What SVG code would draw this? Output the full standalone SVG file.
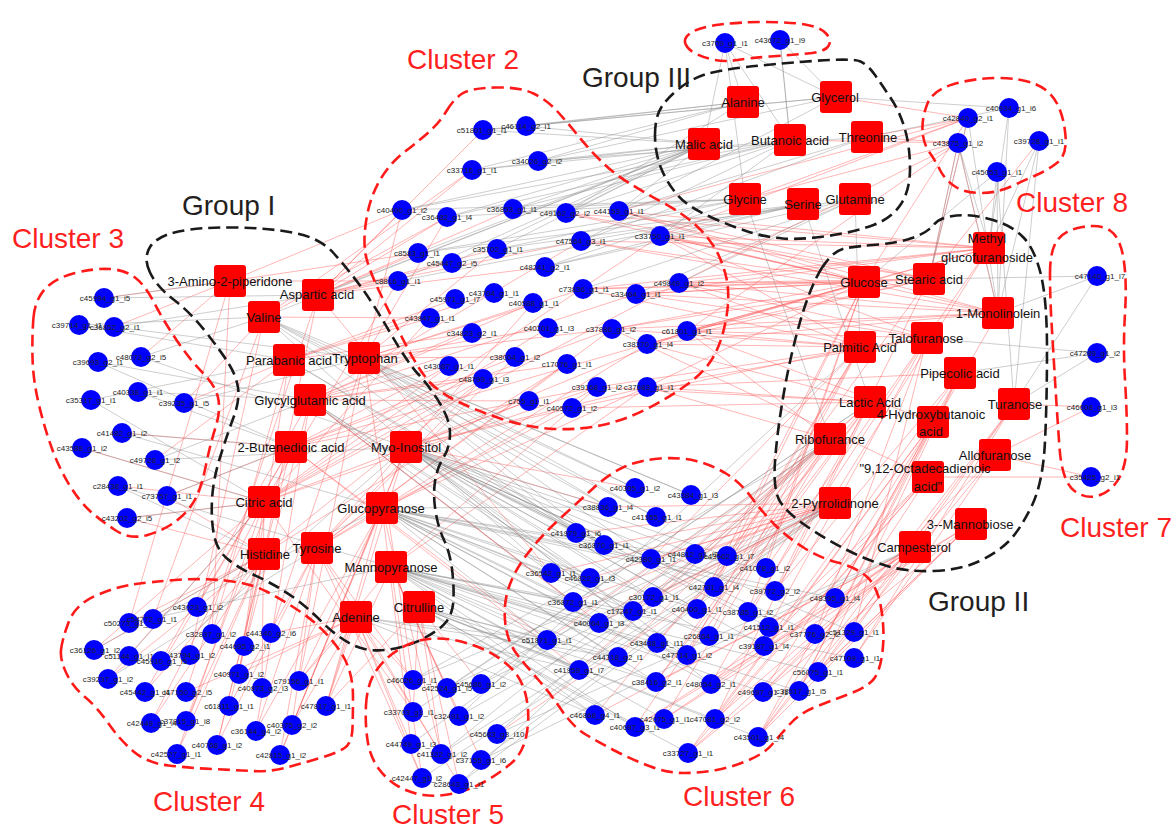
<svg xmlns="http://www.w3.org/2000/svg" width="1172" height="829" viewBox="0 0 1172 829">
<style>
.r{fill:none;stroke:#ff5050;stroke-width:.7;opacity:.6}
.g{fill:none;stroke:#8a8a8a;stroke-width:.7;opacity:.6}
.ro{fill:none;stroke:#ff1a1a;stroke-width:2.6;stroke-dasharray:12 6}
.bo{fill:none;stroke:#1a1a1a;stroke-width:2.6;stroke-dasharray:12 6}
.gn circle{fill:#0000ff}
.gn text{font-family:"Liberation Sans",Arial,sans-serif;font-size:8px;text-anchor:middle;fill:#222}
.mt rect{fill:#ff0000}
.mt text{font-family:"Liberation Sans",Arial,sans-serif;font-size:13px;text-anchor:middle;fill:#111}
.ttl{font-family:"Liberation Sans",Arial,sans-serif;font-size:28px}
.tr{fill:#ff1f1f}
.tb{fill:#231f20}
</style>
<rect width="1172" height="829" fill="#fff"/>
<g id="connectors">
<path class="r" d="M230 281L104 298M230 281L114 327M230 281L141 357M230 281L402 210M230 281L398 281M230 281L418 253M230 281L129 623M230 281L212 634"/>
<path class="r" d="M318 295L402 210M318 295L447 217M318 295L418 253M318 295L452 263M318 295L398 281M318 295L483 130M318 295L472 170M318 295L513 209M318 295L497 249M318 295L545 267M318 295L581 241M318 295L239 674M318 295L186 692M318 295L551 573"/>
<path class="r" d="M264 317L447 217M264 317L472 170M264 317L430 318M264 317L153 619M264 317L190 655M264 317L184 403"/>
<path class="r" d="M289 360L455 299M289 360L494 293M289 360L430 318M289 360L472 333M289 360L212 634M289 360L244 646M289 360L184 403M289 360L155 460"/>
<path class="r" d="M364 358L402 210M364 358L447 217M364 358L497 249M364 358L533 303M364 358L548 328M364 358L515 357M364 358L612 329M364 358L583 289M364 358L271 633M364 358L299 681M364 358L413 680"/>
<path class="r" d="M310 400L449 366M310 400L483 379M310 400L529 401M310 400L567 364M310 400L472 333M310 400L533 303M310 400L581 241M310 400L636 294M310 400L161 661M310 400L229 706M310 400L256 731M310 400L573 602M310 400L599 623"/>
<path class="r" d="M291 447L449 366M291 447L515 357M291 447L597 387M291 447L647 344M291 447L612 329M291 447L197 607M291 447L145 692M291 447L186 721M291 447L217 745M291 447L167 496M291 447L122 433M291 447L547 640M291 447L579 670"/>
<path class="r" d="M406 447L529 401M406 447L572 408M406 447L647 387M406 447L687 331M406 447L326 706M406 447L292 725M406 447L280 755M406 447L608 507M406 447L635 488"/>
<path class="r" d="M264 502L398 281M264 502L430 318M264 502L449 366M264 502L483 379M264 502L529 401M264 502L548 328M264 502L597 387M264 502L660 236M264 502L679 283M264 502L94 650M264 502L108 679M264 502L151 723M264 502L177 754M264 502L239 674M264 502L262 688M264 502L82 448M264 502L118 486M264 502L127 518M264 502L413 712"/>
<path class="r" d="M382 508L299 681M382 508L326 706M382 508L256 731M382 508L280 755M382 508L411 744M382 508L441 754M382 508L572 408M382 508L647 387"/>
<path class="r" d="M264 554L129 623M264 554L94 650M264 554L108 679M264 554L145 692M264 554L151 723M264 554L177 754M264 554L186 721M264 554L217 745M264 554L127 518M264 554L167 496M264 554L483 379M264 554L567 364"/>
<path class="r" d="M317 548L515 357M317 548L567 364M317 548L597 387M317 548L612 329M317 548L483 379M317 548L533 303M317 548L647 344M317 548L229 706M317 548L256 731M317 548L280 755M317 548L292 725M317 548L217 745M317 548L413 680M317 548L422 778M317 548L459 784"/>
<path class="r" d="M391 567L326 706M391 567L299 681M391 567L447 688M391 567L459 716M391 567L481 760M391 567L422 778M391 567L647 387M391 567L597 387"/>
<path class="r" d="M419 607L413 712M419 607L441 754M419 607L459 784M419 607L481 684M419 607L326 706"/>
<path class="r" d="M356 617L271 633M356 617L299 681M356 617L326 706M356 617L292 725M356 617L239 674M356 617L186 692M356 617L411 744M356 617L422 778M356 617L413 680M356 617L441 754"/>
<path class="r" d="M989 248L660 236M989 248L679 283M989 248L687 331M989 248L619 211M989 248L636 294M989 248L766 568M989 248L775 591M989 248L581 241M989 248L566 213M989 248L583 289M989 248L647 344"/>
<path class="r" d="M864 282L660 236M864 282L679 283M864 282L687 331M864 282L647 344M864 282L647 387M864 282L612 329M864 282L583 289M864 282L581 241M864 282L714 587M864 282L748 612M864 282L697 609M864 282L766 568M864 282L619 211M864 282L566 213M864 282L636 294"/>
<path class="r" d="M929 279L679 283M929 279L687 331M929 279L660 236M929 279L636 294M929 279L619 211M929 279L727 556M929 279L775 591M929 279L958 143M929 279L968 118M929 279L647 344M929 279L612 329M929 279L583 289M929 279L566 213"/>
<path class="r" d="M998 313L687 331M998 313L647 344M998 313L679 283M998 313L835 598M998 313L958 143M998 313L660 236M998 313L619 211M998 313L636 294M998 313L612 329M998 313L581 241"/>
<path class="r" d="M927 338L687 331M927 338L647 387M927 338L597 387M927 338L769 627M927 338L815 634M927 338L854 632M927 338L748 612M927 338L660 236M927 338L679 283M927 338L636 294"/>
<path class="r" d="M860 347L687 331M860 347L647 344M860 347L612 329M860 347L572 408M860 347L714 587M860 347L697 609M860 347L709 636M860 347L687 655M860 347L651 559M860 347L660 236M860 347L679 283M860 347L583 289"/>
<path class="r" d="M960 373L764 646M960 373L818 672M960 373L799 691M960 373L775 591M960 373L835 598M960 373L647 387"/>
<path class="r" d="M870 402L647 387M870 402L647 344M870 402L597 387M870 402L572 408M870 402L656 682M870 402L711 684M870 402L715 719M870 402L687 655M870 402L657 643M870 402L633 611M870 402L653 597"/>
<path class="r" d="M1014 404L854 658M1014 404L854 632M1014 404L818 672M1014 404L758 737M1014 404L1091 407"/>
<path class="r" d="M933 422L763 692M933 422L799 691M933 422L758 737M933 422L715 719M933 422L688 753M933 422L687 331"/>
<path class="r" d="M830 439L599 623M830 439L618 657M830 439L656 682M830 439L664 719M830 439L635 727M830 439L595 715M830 439L579 670M830 439L547 640M830 439L647 387M830 439L687 331"/>
<path class="r" d="M995 455L854 658M995 455L818 672M995 455L763 692M995 455L1091 477M995 455L1091 407"/>
<path class="r" d="M928 477L688 753M928 477L715 719M928 477L758 737M928 477L711 684M928 477L764 646M928 477L612 329M928 477L1091 477"/>
<path class="r" d="M835 503L573 602M835 503L551 573M835 503L590 578M835 503L604 545M835 503L576 533M835 503L608 507M835 503L651 559M835 503L695 554M835 503L653 597M835 503L633 611M835 503L599 623M835 503L497 734"/>
<path class="r" d="M971 524L799 691M971 524L818 672M971 524L758 737M971 524L688 753M971 524L664 719M971 524L635 727"/>
<path class="r" d="M915 547L595 715M915 547L635 727M915 547L664 719M915 547L688 753M915 547L715 719M915 547L758 737M915 547L763 692M915 547L711 684M915 547L656 682"/>
<path class="r" d="M968 118L867 137M968 118L836 97M968 118L660 236M968 118L619 211M968 118L864 282M968 118L745 199M958 143L867 137M958 143L790 140M958 143L745 199M958 143L679 283M958 143L687 331M1039 141L929 279"/>
<path class="g" d="M704 144L483 130M704 144L526 126M704 144L472 170M704 144L538 161M704 144L402 210M704 144L447 217M704 144L513 209M704 144L566 213M704 144L619 211M704 144L418 253M704 144L497 249M704 144L398 281M704 144L452 263M704 144L318 295M704 144L264 317"/>
<path class="g" d="M743 102L483 130M743 102L526 126M743 102L538 161M743 102L472 170M743 102L566 213M743 102L725 43"/>
<path class="g" d="M836 97L526 126M836 97L538 161M836 97L483 130M836 97L619 211M836 97L780 40M836 97L725 43M836 97L1009 108"/>
<path class="g" d="M790 140L472 170M790 140L513 209M790 140L447 217M790 140L566 213M790 140L402 210M790 140L660 236M790 140L581 241M790 140L780 40"/>
<path class="g" d="M867 137L538 161M867 137L619 211M867 137L581 241M867 137L1009 108"/>
<path class="g" d="M745 199L402 210M745 199L447 217M745 199L513 209M745 199L497 249M745 199L418 253M745 199L725 43M745 199L545 267M745 199L830 439"/>
<path class="g" d="M803 204L418 253M803 204L452 263M803 204L545 267M803 204L398 281M803 204L660 236M803 204L870 402"/>
<path class="g" d="M855 199L497 249M855 199L545 267M855 199L583 289M855 199L636 294M855 199L679 283M855 199L860 347"/>
<path class="g" d="M958 143L989 248M958 143L998 313M958 143L929 279M997 172L989 248M997 172L998 313M997 172L1014 404M997 172L864 282M1009 108L998 313M1009 108L989 248M1039 141L998 313M1039 141L1014 404M1039 141L989 248M968 118L929 279M968 118L998 313M725 43L704 144M725 43L790 140M780 40L790 140"/>
<path class="g" d="M1097 276L998 313M1097 276L1014 404M1097 276L929 279M1097 353L927 338M1097 353L960 373M1097 353L1014 404"/>
<path class="g" d="M406 447L608 507M406 447L604 545M406 447L651 559M406 447L695 554M406 447L727 556M406 447L714 587M406 447L653 597M406 447L697 609M406 447L748 612M406 447L769 627M406 447L709 636M406 447L657 643M406 447L764 646M406 447L815 634M406 447L854 632M406 447L576 533M406 447L590 578M406 447L687 655M406 447L711 684"/>
<path class="g" d="M382 508L551 573M382 508L590 578M382 508L573 602M382 508L633 611M382 508L599 623M382 508L547 640M382 508L618 657M382 508L687 655M382 508L711 684M382 508L656 682M382 508L766 568M382 508L775 591M382 508L835 598M382 508L604 545M382 508L608 507M382 508L651 559M382 508L709 636M382 508L697 609"/>
<path class="g" d="M391 567L547 640M391 567L579 670M391 567L618 657M391 567L595 715M391 567L635 727M391 567L664 719M391 567L656 682M391 567L763 692M391 567L799 691M391 567L818 672M391 567L854 658M391 567L573 602M391 567L599 623M391 567L633 611M391 567L657 643M391 567L687 655"/>
<path class="g" d="M419 607L579 670M419 607L595 715M419 607L635 727M419 607L688 753M419 607L715 719M419 607L758 737M419 607L547 640M419 607L618 657M419 607L656 682M356 617L547 640M356 617L579 670M356 617L595 715M356 617L618 657"/>
<path class="g" d="M364 358L576 533M364 358L604 545M364 358L608 507M364 358L656 517M364 358L691 495M364 358L635 488M364 358L651 559"/>
<path class="g" d="M264 317L576 533M264 317L551 573M264 317L608 507M264 317L635 488M264 317L691 495M264 317L656 517"/>
<path class="g" d="M310 400L551 573M310 400L590 578M310 400L573 602M310 400L633 611M289 360L604 545M289 360L576 533"/>
<path class="g" d="M104 298L230 281M104 298L318 295M79 325L264 317M79 325L289 360M114 327L364 358M114 327L318 295M98 362L310 400M98 362L291 447M141 357L264 317M141 357L406 447M138 392L291 447M138 392L310 400M91 400L264 502M91 400L289 360M184 403L364 358M122 433L291 447M122 433L382 508M82 448L264 502M155 460L310 400M155 460L406 447M118 486L264 554M118 486L391 567M167 496L291 447M127 518L264 502"/>
<path class="g" d="M94 650L264 554M108 679L317 548M129 656L264 502M161 661L406 447M153 619L382 508M129 623L391 567"/>
<path class="g" d="M413 680L835 503M413 680L830 439M447 688L835 503M447 688L870 402M481 684L830 439M481 684L835 503M459 716L835 503M459 716L860 347M497 734L830 439M497 734L915 547M441 754L835 503M441 754L830 439M481 760L835 503M481 760L915 547M459 784L830 439M459 784L835 503M422 778L835 503M411 744L830 439M413 712L870 402"/>
</g>
<g id="outlines">
<path id="outline-cluster3" class="ro" d="M33.5 317.5 Q35 300 45 289 Q55 278 75 273 Q95 268 110 269 Q125 270 135 277.5 Q145 285 154 302.5 Q163 320 176.5 340 Q190 360 202.5 372.5 Q215 385 218 397.5 Q221 410 215.5 427.5 Q210 445 206 465 Q202 485 196 497.5 Q190 510 177.5 520 Q165 530 147.5 535 Q130 540 115 530 Q100 520 90 511 Q80 502 70 486 Q60 470 52.5 450 Q45 430 39 405 Q33 380 32.5 357.5 Q32 335 33.5 317.5Z"/>
<path id="outline-group1" class="bo" d="M150 272.5 Q143 258 150 247 Q157 236 178.5 231.5 Q200 227 235 227.5 Q270 228 295 233 Q320 238 333.5 253 Q347 268 360 285.5 Q373 303 390 332.5 Q407 362 418.5 374.5 Q430 387 440 403.5 Q450 420 450 433.5 Q450 447 443.5 457.5 Q437 468 435 481.5 Q433 495 435.5 511 Q438 527 444 540 Q450 553 452 569 Q454 585 453.5 599 Q453 613 446.5 621.5 Q440 630 422.5 639 Q405 648 385 650 Q365 652 350 643.5 Q335 635 322.5 622.5 Q310 610 299 601.5 Q288 593 276.5 586.5 Q265 580 251 573.5 Q237 567 227 558.5 Q217 550 214 535 Q211 520 212 500 Q213 480 220 457.5 Q227 435 233.5 417.5 Q240 400 238 387.5 Q236 375 228 362.5 Q220 350 205 331 Q190 312 173.5 299.5 Q157 287 150 272.5Z"/>
<path id="outline-cluster2" class="ro" d="M446.5 111 Q453 100 461.5 94 Q470 88 495 87.5 Q520 87 533.5 93.5 Q547 100 557 111 Q567 122 577.5 135 Q588 148 600.5 160.5 Q613 173 629 183 Q645 193 663.5 203 Q682 213 694.5 224 Q707 235 715 248.5 Q723 262 726.5 278.5 Q730 295 726.5 316.5 Q723 338 715 354 Q707 370 688.5 383.5 Q670 397 647.5 408.5 Q625 420 602.5 425 Q580 430 555 429 Q530 428 505 420 Q480 412 460 402.5 Q440 393 430 382.5 Q420 372 406.5 346 Q393 320 380.5 294 Q368 268 365.5 254 Q363 240 366.5 218.5 Q370 197 380 180 Q390 163 405 151.5 Q420 140 430 131 Q440 122 446.5 111Z"/>
<path id="outline-top" class="ro" d="M685.5 44 Q683 38 691.5 32.5 Q700 27 720 24.5 Q740 22 765 22 Q790 22 805 24.5 Q820 27 826 33.5 Q832 40 828.5 46 Q825 52 807.5 53.5 Q790 55 770 56.5 Q750 58 737.5 60 Q725 62 715 60 Q705 58 696.5 54 Q688 50 685.5 44Z"/>
<path id="outline-group3" class="bo" d="M655 135 Q655 117 661.5 107 Q668 97 680.5 87.5 Q693 78 706.5 74 Q720 70 746.5 67 Q773 64 813 61 Q853 58 860.5 61.5 Q868 65 875 75 Q882 85 891 98.5 Q900 112 905 129.5 Q910 147 910 168.5 Q910 190 901 204 Q892 218 873.5 225 Q855 232 827.5 236 Q800 240 782.5 238.5 Q765 237 749 232 Q733 227 710.5 217 Q688 207 677.5 195 Q667 183 661 168 Q655 153 655 135Z"/>
<path id="outline-cluster8" class="ro" d="M922.5 130 Q922 117 927.5 103.5 Q933 90 954 84 Q975 78 997.5 78 Q1020 78 1035 84 Q1050 90 1057 103.5 Q1064 117 1065.5 136 Q1067 155 1057.5 162.5 Q1048 170 1036.5 175 Q1025 180 1011 186.5 Q997 193 981 193 Q965 193 955 186.5 Q945 180 940 170 Q935 160 929 151.5 Q923 143 922.5 130Z"/>
<path id="outline-cluster7" class="ro" d="M1050 273.5 Q1050 250 1057.5 240 Q1065 230 1082.5 227 Q1100 224 1110 230.5 Q1120 237 1123.5 258.5 Q1127 280 1125 313.5 Q1123 347 1125 380 Q1127 413 1127 438 Q1127 463 1120 476.5 Q1113 490 1100 495 Q1087 500 1074.5 491 Q1062 482 1059.5 447.5 Q1057 413 1055 380 Q1053 347 1051.5 322 Q1050 297 1050 273.5Z"/>
<path id="outline-group2" class="bo" d="M821.5 268.5 Q833 250 846.5 248 Q860 246 878.5 244.5 Q897 243 912 238 Q927 233 933.5 225 Q940 217 956.5 215.5 Q973 214 993 220 Q1013 226 1024 238 Q1035 250 1041 275 Q1047 300 1047 350 Q1047 400 1045 441.5 Q1043 483 1031.5 506.5 Q1020 530 1008.5 541.5 Q997 553 978.5 561.5 Q960 570 933.5 571 Q907 572 887 566 Q867 560 847 550 Q827 540 807 526.5 Q787 513 780 501.5 Q773 490 775 461.5 Q777 433 783.5 395 Q790 357 800 322 Q810 287 821.5 268.5Z"/>
<path id="outline-cluster4" class="ro" d="M61 650 Q62 640 68.5 622.5 Q75 605 95 596 Q115 587 132.5 584.5 Q150 582 175 580 Q200 578 225 580.5 Q250 583 266.5 591.5 Q283 600 300 611.5 Q317 623 330 638 Q343 653 348 666.5 Q353 680 353 696.5 Q353 713 352.5 728 Q352 743 344.5 748 Q337 753 320 758 Q303 763 286.5 767.5 Q270 772 251.5 771 Q233 770 211.5 769 Q190 768 168.5 765.5 Q147 763 133.5 751.5 Q120 740 108.5 723.5 Q97 707 85 697 Q73 687 66.5 673.5 Q60 660 61 650Z"/>
<path id="outline-cluster5" class="ro" d="M366 705 Q367 687 373.5 675 Q380 663 393.5 653 Q407 643 422 640 Q437 637 453.5 640 Q470 643 485 650 Q500 657 511.5 668.5 Q523 680 526.5 698.5 Q530 717 526.5 735 Q523 753 511.5 763 Q500 773 485 781.5 Q470 790 453.5 793.5 Q437 797 423.5 795 Q410 793 398.5 786.5 Q387 780 378.5 768.5 Q370 757 367.5 740 Q365 723 366 705Z"/>
<path id="outline-cluster6" class="ro" d="M505.5 625 Q503 607 508 590 Q513 573 526.5 555 Q540 537 558.5 520 Q577 503 593.5 488 Q610 473 625 466.5 Q640 460 660 458.5 Q680 457 696 461 Q712 465 726 473.5 Q740 482 751.5 497.5 Q763 513 775 525 Q787 537 803.5 547.5 Q820 558 837.5 562.5 Q855 567 866 576 Q877 585 881 607.5 Q885 630 882.5 651.5 Q880 673 872.5 680.5 Q865 688 849 694 Q833 700 816.5 706.5 Q800 713 790 724 Q780 735 772.5 744 Q765 753 749 760 Q733 767 716.5 770 Q700 773 684 773 Q668 773 650.5 766.5 Q633 760 616.5 751.5 Q600 743 586.5 735 Q573 727 561.5 710 Q550 693 538.5 680 Q527 667 517.5 655 Q508 643 505.5 625Z"/>
</g>
<g id="metabolites">
<g id="m-3-amino-2-piperidone" class="mt"><rect x="214" y="265" width="32" height="32" rx="3"/><text x="230" y="286">3-Amino-2-piperidone</text></g>
<g id="m-aspartic-acid" class="mt"><rect x="302" y="279" width="32" height="32" rx="3"/><text x="317" y="299">Aspartic acid</text></g>
<g id="m-valine" class="mt"><rect x="248" y="301" width="32" height="32" rx="3"/><text x="264" y="322">Valine</text></g>
<g id="m-parabanic-acid" class="mt"><rect x="273" y="344" width="32" height="32" rx="3"/><text x="289" y="365">Parabanic acid</text></g>
<g id="m-tryptophan" class="mt"><rect x="348" y="342" width="32" height="32" rx="3"/><text x="365" y="363">Tryptophan</text></g>
<g id="m-glycylglutamic-acid" class="mt"><rect x="294" y="384" width="32" height="32" rx="3"/><text x="310" y="405">Glycylglutamic acid</text></g>
<g id="m-2-butenedioic-acid" class="mt"><rect x="275" y="431" width="32" height="32" rx="3"/><text x="291" y="452">2-Butenedioic acid</text></g>
<g id="m-myo-inositol" class="mt"><rect x="390" y="431" width="32" height="32" rx="3"/><text x="406" y="452">Myo-Inositol</text></g>
<g id="m-citric-acid" class="mt"><rect x="248" y="486" width="32" height="32" rx="3"/><text x="264" y="507">Citric acid</text></g>
<g id="m-glucopyranose" class="mt"><rect x="366" y="492" width="32" height="32" rx="3"/><text x="381" y="513">Glucopyranose</text></g>
<g id="m-histidine" class="mt"><rect x="248" y="538" width="32" height="32" rx="3"/><text x="265" y="559">Histidine</text></g>
<g id="m-tyrosine" class="mt"><rect x="301" y="532" width="32" height="32" rx="3"/><text x="317" y="553">Tyrosine</text></g>
<g id="m-mannopyranose" class="mt"><rect x="375" y="551" width="32" height="32" rx="3"/><text x="391" y="572">Mannopyranose</text></g>
<g id="m-citrulline" class="mt"><rect x="403" y="591" width="32" height="32" rx="3"/><text x="419" y="612">Citrulline</text></g>
<g id="m-adenine" class="mt"><rect x="340" y="601" width="32" height="32" rx="3"/><text x="356" y="622">Adenine</text></g>
<g id="m-alanine" class="mt"><rect x="727" y="86" width="32" height="32" rx="3"/><text x="743" y="107">Alanine</text></g>
<g id="m-glycerol" class="mt"><rect x="820" y="81" width="32" height="32" rx="3"/><text x="835" y="102">Glycerol</text></g>
<g id="m-malic-acid" class="mt"><rect x="688" y="128" width="32" height="32" rx="3"/><text x="704" y="149">Malic acid</text></g>
<g id="m-butanoic-acid" class="mt"><rect x="774" y="124" width="32" height="32" rx="3"/><text x="790" y="145">Butanoic acid</text></g>
<g id="m-threonine" class="mt"><rect x="851" y="121" width="32" height="32" rx="3"/><text x="868" y="142">Threonine</text></g>
<g id="m-glycine" class="mt"><rect x="729" y="183" width="32" height="32" rx="3"/><text x="745" y="204">Glycine</text></g>
<g id="m-serine" class="mt"><rect x="787" y="188" width="32" height="32" rx="3"/><text x="803" y="209">Serine</text></g>
<g id="m-glutamine" class="mt"><rect x="839" y="183" width="32" height="32" rx="3"/><text x="855" y="204">Glutamine</text></g>
<g id="m-methyl-glucofuranoside" class="mt"><rect x="973" y="232" width="32" height="32" rx="3"/><text x="987" y="243">Methyl</text><text x="987" y="262">glucofuranoside</text></g>
<g id="m-glucose" class="mt"><rect x="848" y="266" width="32" height="32" rx="3"/><text x="864" y="287">Glucose</text></g>
<g id="m-stearic-acid" class="mt"><rect x="913" y="263" width="32" height="32" rx="3"/><text x="929" y="284">Stearic acid</text></g>
<g id="m-1-monolinolein" class="mt"><rect x="982" y="297" width="32" height="32" rx="3"/><text x="998" y="318">1-Monolinolein</text></g>
<g id="m-talofuranose" class="mt"><rect x="911" y="322" width="32" height="32" rx="3"/><text x="926" y="343">Talofuranose</text></g>
<g id="m-palmitic-acid" class="mt"><rect x="844" y="331" width="32" height="32" rx="3"/><text x="860" y="352">Palmitic Acid</text></g>
<g id="m-pipecolic-acid" class="mt"><rect x="944" y="357" width="32" height="32" rx="3"/><text x="960" y="378">Pipecolic acid</text></g>
<g id="m-lactic-acid" class="mt"><rect x="854" y="386" width="32" height="32" rx="3"/><text x="870" y="407">Lactic Acid</text></g>
<g id="m-turanose" class="mt"><rect x="998" y="388" width="32" height="32" rx="3"/><text x="1015" y="409">Turanose</text></g>
<g id="m-4-hydroxybutanoic-acid" class="mt"><rect x="917" y="406" width="32" height="32" rx="3"/><text x="931" y="419">4-Hydroxybutanoic</text><text x="931" y="436">acid</text></g>
<g id="m-ribofurance" class="mt"><rect x="814" y="423" width="32" height="32" rx="3"/><text x="830" y="444">Ribofurance</text></g>
<g id="m-allofuranose" class="mt"><rect x="979" y="439" width="32" height="32" rx="3"/><text x="995" y="460">Allofuranose</text></g>
<g id="m-9-12-octadecadienoic-acid" class="mt"><rect x="912" y="461" width="32" height="32" rx="3"/><text x="925" y="473">"9,12-Octadecadienoic</text><text x="928" y="491">acid"</text></g>
<g id="m-2-pyrrolidinone" class="mt"><rect x="819" y="487" width="32" height="32" rx="3"/><text x="835" y="508">2-Pyrrolidinone</text></g>
<g id="m-3-mannobiose" class="mt"><rect x="955" y="508" width="32" height="32" rx="3"/><text x="970" y="529">3--Mannobiose</text></g>
<g id="m-campesterol" class="mt"><rect x="899" y="531" width="32" height="32" rx="3"/><text x="914" y="552">Campesterol</text></g>
</g>
<g id="genes">
<g id="c45994_g1_i5" class="gn"><circle cx="104" cy="298" r="10"/><text x="105" y="301">c45994_g1_i5</text></g>
<g id="c39714_g1_i1" class="gn"><circle cx="79" cy="325" r="10"/><text x="77" y="328">c39714_g1_i1</text></g>
<g id="c36852_g2_i1" class="gn"><circle cx="114" cy="327" r="10"/><text x="115" y="330">c36852_g2_i1</text></g>
<g id="c39693_g2_i1" class="gn"><circle cx="98" cy="362" r="10"/><text x="98" y="365">c39693_g2_i1</text></g>
<g id="c48073_g2_i5" class="gn"><circle cx="141" cy="357" r="10"/><text x="141" y="360">c48073_g2_i5</text></g>
<g id="c40338_g1_i1" class="gn"><circle cx="138" cy="392" r="10"/><text x="138" y="395">c40338_g1_i1</text></g>
<g id="c35317_g1_i1" class="gn"><circle cx="91" cy="400" r="10"/><text x="91" y="403">c35317_g1_i1</text></g>
<g id="c39235_g1_i5" class="gn"><circle cx="184" cy="403" r="10"/><text x="184" y="406">c39235_g1_i5</text></g>
<g id="c41482_g1_i2" class="gn"><circle cx="122" cy="433" r="10"/><text x="122" y="436">c41482_g1_i2</text></g>
<g id="c43588_g1_i2" class="gn"><circle cx="82" cy="448" r="10"/><text x="82" y="451">c43588_g1_i2</text></g>
<g id="c49728_g1_i2" class="gn"><circle cx="155" cy="460" r="10"/><text x="155" y="463">c49728_g1_i2</text></g>
<g id="c28438_g1_i1" class="gn"><circle cx="118" cy="486" r="10"/><text x="118" y="489">c28438_g1_i1</text></g>
<g id="c73757_g1_i1" class="gn"><circle cx="167" cy="496" r="10"/><text x="167" y="499">c73757_g1_i1</text></g>
<g id="c43202_g2_i5" class="gn"><circle cx="127" cy="518" r="10"/><text x="127" y="521">c43202_g2_i5</text></g>
<g id="c51801_g1_i1" class="gn"><circle cx="483" cy="130" r="10"/><text x="482" y="133">c51801_g1_i1</text></g>
<g id="c46114_g2_i1" class="gn"><circle cx="526" cy="126" r="10"/><text x="526" y="129">c46114_g2_i1</text></g>
<g id="c33716_g1_i1" class="gn"><circle cx="472" cy="170" r="10"/><text x="472" y="173">c33716_g1_i1</text></g>
<g id="c34026_g2_i2" class="gn"><circle cx="538" cy="161" r="10"/><text x="537" y="164">c34026_g2_i2</text></g>
<g id="c40400_g1_i2" class="gn"><circle cx="402" cy="210" r="10"/><text x="402" y="213">c40400_g1_i2</text></g>
<g id="c36482_g1_i4" class="gn"><circle cx="447" cy="217" r="10"/><text x="447" y="220">c36482_g1_i4</text></g>
<g id="c36853_g1_i1" class="gn"><circle cx="513" cy="209" r="10"/><text x="512" y="212">c36853_g1_i1</text></g>
<g id="c49162_g2_i2" class="gn"><circle cx="566" cy="213" r="10"/><text x="565" y="216">c49162_g2_i2</text></g>
<g id="c44153_g1_i1" class="gn"><circle cx="619" cy="211" r="10"/><text x="619" y="214">c44153_g1_i1</text></g>
<g id="c33750_g1_i1" class="gn"><circle cx="660" cy="236" r="10"/><text x="660" y="239">c33750_g1_i1</text></g>
<g id="c47564_g3_i1" class="gn"><circle cx="581" cy="241" r="10"/><text x="581" y="244">c47564_g3_i1</text></g>
<g id="c8583_g1_i1" class="gn"><circle cx="418" cy="253" r="10"/><text x="417" y="256">c8583_g1_i1</text></g>
<g id="c35702_g1_i1" class="gn"><circle cx="497" cy="249" r="10"/><text x="498" y="252">c35702_g1_i1</text></g>
<g id="c45447_g2_i5" class="gn"><circle cx="452" cy="263" r="10"/><text x="452" y="266">c45447_g2_i5</text></g>
<g id="c48241_g2_i1" class="gn"><circle cx="545" cy="267" r="10"/><text x="545" y="270">c48241_g2_i1</text></g>
<g id="c8816_g1_i1" class="gn"><circle cx="398" cy="281" r="10"/><text x="398" y="284">c8816_g1_i1</text></g>
<g id="c73836_g1_i1" class="gn"><circle cx="583" cy="289" r="10"/><text x="584" y="292">c73836_g1_i1</text></g>
<g id="c33464_g1_i1" class="gn"><circle cx="636" cy="294" r="10"/><text x="636" y="297">c33464_g1_i1</text></g>
<g id="c49849_g1_i2" class="gn"><circle cx="679" cy="283" r="10"/><text x="679" y="286">c49849_g1_i2</text></g>
<g id="c45971_g1_i7" class="gn"><circle cx="455" cy="299" r="10"/><text x="455" y="302">c45971_g1_i7</text></g>
<g id="c43704_g1_i1" class="gn"><circle cx="494" cy="293" r="10"/><text x="494" y="296">c43704_g1_i1</text></g>
<g id="c40588_g1_i1" class="gn"><circle cx="533" cy="303" r="10"/><text x="534" y="306">c40588_g1_i1</text></g>
<g id="c43847_g1_i1" class="gn"><circle cx="430" cy="318" r="10"/><text x="430" y="321">c43847_g1_i1</text></g>
<g id="c34823_g2_i1" class="gn"><circle cx="472" cy="333" r="10"/><text x="472" y="336">c34823_g2_i1</text></g>
<g id="c40201_g1_i3" class="gn"><circle cx="548" cy="328" r="10"/><text x="549" y="331">c40201_g1_i3</text></g>
<g id="c37886_g1_i2" class="gn"><circle cx="612" cy="329" r="10"/><text x="611" y="332">c37886_g1_i2</text></g>
<g id="c61801_g1_i1" class="gn"><circle cx="687" cy="331" r="10"/><text x="687" y="334">c61801_g1_i1</text></g>
<g id="c38370_g1_i4" class="gn"><circle cx="647" cy="344" r="10"/><text x="648" y="347">c38370_g1_i4</text></g>
<g id="c43087_g1_i1" class="gn"><circle cx="449" cy="366" r="10"/><text x="449" y="369">c43087_g1_i1</text></g>
<g id="c38004_g1_i2" class="gn"><circle cx="515" cy="357" r="10"/><text x="515" y="360">c38004_g1_i2</text></g>
<g id="c17076_g1_i1" class="gn"><circle cx="567" cy="364" r="10"/><text x="567" y="367">c17076_g1_i1</text></g>
<g id="c48799_g1_i3" class="gn"><circle cx="483" cy="379" r="10"/><text x="484" y="382">c48799_g1_i3</text></g>
<g id="c39168_g1_i2" class="gn"><circle cx="597" cy="387" r="10"/><text x="597" y="390">c39168_g1_i2</text></g>
<g id="c37083_g1_i1" class="gn"><circle cx="647" cy="387" r="10"/><text x="649" y="390">c37083_g1_i1</text></g>
<g id="c755_g1_i1" class="gn"><circle cx="529" cy="401" r="10"/><text x="529" y="404">c755_g1_i1</text></g>
<g id="c40572_g1_i2" class="gn"><circle cx="572" cy="408" r="10"/><text x="572" y="411">c40572_g1_i2</text></g>
<g id="c3709_g1_i1" class="gn"><circle cx="725" cy="43" r="10"/><text x="725" y="46">c3709_g1_i1</text></g>
<g id="c43672_g1_i9" class="gn"><circle cx="780" cy="40" r="10"/><text x="780" y="43">c43672_g1_i9</text></g>
<g id="c40934_g1_i6" class="gn"><circle cx="1009" cy="108" r="10"/><text x="1011" y="111">c40934_g1_i6</text></g>
<g id="c42840_g2_i1" class="gn"><circle cx="968" cy="118" r="10"/><text x="968" y="121">c42840_g2_i1</text></g>
<g id="c43875_g1_i2" class="gn"><circle cx="958" cy="143" r="10"/><text x="958" y="146">c43875_g1_i2</text></g>
<g id="c39728_g1_i1" class="gn"><circle cx="1039" cy="141" r="10"/><text x="1039" y="144">c39728_g1_i1</text></g>
<g id="c45053_g1_i1" class="gn"><circle cx="997" cy="172" r="10"/><text x="997" y="175">c45053_g1_i1</text></g>
<g id="c47140_g1_i7" class="gn"><circle cx="1097" cy="276" r="10"/><text x="1100" y="279">c47140_g1_i7</text></g>
<g id="c47289_g1_i2" class="gn"><circle cx="1097" cy="353" r="10"/><text x="1095" y="356">c47289_g1_i2</text></g>
<g id="c46608_g1_i3" class="gn"><circle cx="1091" cy="407" r="10"/><text x="1092" y="410">c46608_g1_i3</text></g>
<g id="c35425_g2_i1" class="gn"><circle cx="1091" cy="477" r="10"/><text x="1095" y="480">c35425_g2_i1</text></g>
<g id="c43023_g1_i2" class="gn"><circle cx="197" cy="607" r="10"/><text x="198" y="610">c43023_g1_i2</text></g>
<g id="c50273_g1_i1" class="gn"><circle cx="129" cy="623" r="10"/><text x="129" y="626">c50273_g1_i1</text></g>
<g id="c54772_g1_i1" class="gn"><circle cx="153" cy="619" r="10"/><text x="152" y="622">c54772_g1_i1</text></g>
<g id="c36126_g1_i2" class="gn"><circle cx="94" cy="650" r="10"/><text x="95" y="653">c36126_g1_i2</text></g>
<g id="c51144_g1_i1" class="gn"><circle cx="129" cy="656" r="10"/><text x="129" y="659">c51144_g1_i1</text></g>
<g id="c43794_g1_i2" class="gn"><circle cx="190" cy="655" r="10"/><text x="190" y="658">c43794_g1_i2</text></g>
<g id="c45910_g1_i5" class="gn"><circle cx="161" cy="661" r="10"/><text x="162" y="664">c45910_g1_i5</text></g>
<g id="c32837_g1_i2" class="gn"><circle cx="212" cy="634" r="10"/><text x="211" y="637">c32837_g1_i2</text></g>
<g id="c44340_g2_i6" class="gn"><circle cx="271" cy="633" r="10"/><text x="271" y="636">c44340_g2_i6</text></g>
<g id="c44695_g2_i1" class="gn"><circle cx="244" cy="646" r="10"/><text x="245" y="649">c44695_g2_i1</text></g>
<g id="c39237_g1_i2" class="gn"><circle cx="108" cy="679" r="10"/><text x="108" y="682">c39237_g1_i2</text></g>
<g id="c40971_g1_i2" class="gn"><circle cx="239" cy="674" r="10"/><text x="239" y="677">c40971_g1_i2</text></g>
<g id="c79156_g1_i1" class="gn"><circle cx="299" cy="681" r="10"/><text x="299" y="684">c79156_g1_i1</text></g>
<g id="c40873_g2_i3" class="gn"><circle cx="262" cy="688" r="10"/><text x="263" y="691">c40873_g2_i3</text></g>
<g id="c45442_g1_i1" class="gn"><circle cx="145" cy="692" r="10"/><text x="145" y="695">c45442_g1_i1</text></g>
<g id="c47150_g2_i5" class="gn"><circle cx="186" cy="692" r="10"/><text x="187" y="695">c47150_g2_i5</text></g>
<g id="c61811_g1_i1" class="gn"><circle cx="229" cy="706" r="10"/><text x="229" y="709">c61811_g1_i1</text></g>
<g id="c47817_g1_i1" class="gn"><circle cx="326" cy="706" r="10"/><text x="326" y="709">c47817_g1_i1</text></g>
<g id="c42449_g1_i4" class="gn"><circle cx="151" cy="723" r="10"/><text x="152" y="726">c42449_g1_i4</text></g>
<g id="c37815_g1_i8" class="gn"><circle cx="186" cy="721" r="10"/><text x="185" y="724">c37815_g1_i8</text></g>
<g id="c40375_g2_i2" class="gn"><circle cx="292" cy="725" r="10"/><text x="292" y="728">c40375_g2_i2</text></g>
<g id="c36144_g4_i2" class="gn"><circle cx="256" cy="731" r="10"/><text x="256" y="734">c36144_g4_i2</text></g>
<g id="c40768_g1_i2" class="gn"><circle cx="217" cy="745" r="10"/><text x="217" y="748">c40768_g1_i2</text></g>
<g id="c42527_g1_i1" class="gn"><circle cx="177" cy="754" r="10"/><text x="176" y="757">c42527_g1_i1</text></g>
<g id="c42815_g1_i2" class="gn"><circle cx="280" cy="755" r="10"/><text x="281" y="758">c42815_g1_i2</text></g>
<g id="c46026_g1_i1" class="gn"><circle cx="413" cy="680" r="10"/><text x="412" y="683">c46026_g1_i1</text></g>
<g id="c42524_g1_i5" class="gn"><circle cx="447" cy="688" r="10"/><text x="447" y="691">c42524_g1_i5</text></g>
<g id="c45686_g1_i2" class="gn"><circle cx="481" cy="684" r="10"/><text x="481" y="687">c45686_g1_i2</text></g>
<g id="c33703_g1_i1" class="gn"><circle cx="413" cy="712" r="10"/><text x="409" y="715">c33703_g1_i1</text></g>
<g id="c32491_g1_i2" class="gn"><circle cx="459" cy="716" r="10"/><text x="459" y="719">c32491_g1_i2</text></g>
<g id="c45683_g3_i10" class="gn"><circle cx="497" cy="734" r="10"/><text x="497" y="737">c45683_g3_i10</text></g>
<g id="c44749_g1_i3" class="gn"><circle cx="411" cy="744" r="10"/><text x="411" y="747">c44749_g1_i3</text></g>
<g id="c41322_g1_i2" class="gn"><circle cx="441" cy="754" r="10"/><text x="442" y="757">c41322_g1_i2</text></g>
<g id="c37155_g1_i6" class="gn"><circle cx="481" cy="760" r="10"/><text x="481" y="763">c37155_g1_i6</text></g>
<g id="c42447_g1_i2" class="gn"><circle cx="422" cy="778" r="10"/><text x="417" y="781">c42447_g1_i2</text></g>
<g id="c28643_g1_i1" class="gn"><circle cx="459" cy="784" r="10"/><text x="459" y="787">c28643_g1_i1</text></g>
<g id="c40305_g1_i2" class="gn"><circle cx="635" cy="488" r="10"/><text x="635" y="491">c40305_g1_i2</text></g>
<g id="c43384_g1_i3" class="gn"><circle cx="691" cy="495" r="10"/><text x="693" y="498">c43384_g1_i3</text></g>
<g id="c38836_g1_i4" class="gn"><circle cx="608" cy="507" r="10"/><text x="608" y="510">c38836_g1_i4</text></g>
<g id="c41555_g1_i1" class="gn"><circle cx="656" cy="517" r="10"/><text x="657" y="520">c41555_g1_i1</text></g>
<g id="c41979_g1_i6" class="gn"><circle cx="576" cy="533" r="10"/><text x="576" y="536">c41979_g1_i6</text></g>
<g id="c36870_g1_i1" class="gn"><circle cx="604" cy="545" r="10"/><text x="604" y="548">c36870_g1_i1</text></g>
<g id="c42380_g1_i1" class="gn"><circle cx="651" cy="559" r="10"/><text x="651" y="562">c42380_g1_i1</text></g>
<g id="c44812_g1_i2" class="gn"><circle cx="695" cy="554" r="10"/><text x="693" y="557">c44812_g1_i2</text></g>
<g id="c43562_g1_i7" class="gn"><circle cx="727" cy="556" r="10"/><text x="729" y="559">c43562_g1_i7</text></g>
<g id="c41078_g1_i2" class="gn"><circle cx="766" cy="568" r="10"/><text x="765" y="571">c41078_g1_i2</text></g>
<g id="c36542_g1_i1" class="gn"><circle cx="551" cy="573" r="10"/><text x="551" y="576">c36542_g1_i1</text></g>
<g id="c46822_g1_i3" class="gn"><circle cx="590" cy="578" r="10"/><text x="590" y="581">c46822_g1_i3</text></g>
<g id="c42731_g1_i4" class="gn"><circle cx="714" cy="587" r="10"/><text x="714" y="590">c42731_g1_i4</text></g>
<g id="c39772_g2_i2" class="gn"><circle cx="775" cy="591" r="10"/><text x="775" y="594">c39772_g2_i2</text></g>
<g id="c48395_g1_i4" class="gn"><circle cx="835" cy="598" r="10"/><text x="835" y="601">c48395_g1_i4</text></g>
<g id="c36872_g1_i1" class="gn"><circle cx="573" cy="602" r="10"/><text x="573" y="605">c36872_g1_i1</text></g>
<g id="c30172_g1_i1" class="gn"><circle cx="653" cy="597" r="10"/><text x="654" y="600">c30172_g1_i1</text></g>
<g id="c17247_g1_i1" class="gn"><circle cx="633" cy="611" r="10"/><text x="632" y="614">c17247_g1_i1</text></g>
<g id="c40400_g1_i1" class="gn"><circle cx="697" cy="609" r="10"/><text x="697" y="612">c40400_g1_i1</text></g>
<g id="c38785_g1_i2" class="gn"><circle cx="748" cy="612" r="10"/><text x="748" y="615">c38785_g1_i2</text></g>
<g id="c40064_g1_i3" class="gn"><circle cx="599" cy="623" r="10"/><text x="599" y="626">c40064_g1_i3</text></g>
<g id="c41512_g1_i1" class="gn"><circle cx="769" cy="627" r="10"/><text x="769" y="630">c41512_g1_i1</text></g>
<g id="c51871_g1_i1" class="gn"><circle cx="547" cy="640" r="10"/><text x="547" y="643">c51871_g1_i1</text></g>
<g id="c26864_g1_i1" class="gn"><circle cx="709" cy="636" r="10"/><text x="709" y="639">c26864_g1_i1</text></g>
<g id="c43438_g1_i11" class="gn"><circle cx="657" cy="643" r="10"/><text x="657" y="646">c43438_g1_i11</text></g>
<g id="c39187_g1_i4" class="gn"><circle cx="764" cy="646" r="10"/><text x="764" y="649">c39187_g1_i4</text></g>
<g id="c37776_g2_i2" class="gn"><circle cx="815" cy="634" r="10"/><text x="815" y="637">c37776_g2_i2</text></g>
<g id="c51329_g1_i1" class="gn"><circle cx="854" cy="632" r="10"/><text x="854" y="635">c51329_g1_i1</text></g>
<g id="c44318_g2_i1" class="gn"><circle cx="618" cy="657" r="10"/><text x="618" y="660">c44318_g2_i1</text></g>
<g id="c47714_g1_i2" class="gn"><circle cx="687" cy="655" r="10"/><text x="687" y="658">c47714_g1_i2</text></g>
<g id="c47109_g1_i1" class="gn"><circle cx="854" cy="658" r="10"/><text x="855" y="661">c47109_g1_i1</text></g>
<g id="c41959_g1_i7" class="gn"><circle cx="579" cy="670" r="10"/><text x="579" y="673">c41959_g1_i7</text></g>
<g id="c56075_g1_i1" class="gn"><circle cx="818" cy="672" r="10"/><text x="818" y="675">c56075_g1_i1</text></g>
<g id="c38416_g2_i1" class="gn"><circle cx="656" cy="682" r="10"/><text x="657" y="685">c38416_g2_i1</text></g>
<g id="c48054_g2_i1" class="gn"><circle cx="711" cy="684" r="10"/><text x="711" y="687">c48054_g2_i1</text></g>
<g id="c49697_g1_i1" class="gn"><circle cx="763" cy="692" r="10"/><text x="763" y="695">c49697_g1_i1</text></g>
<g id="c38517_g1_i5" class="gn"><circle cx="799" cy="691" r="10"/><text x="801" y="694">c38517_g1_i5</text></g>
<g id="c46868_g4_i1" class="gn"><circle cx="595" cy="715" r="10"/><text x="595" y="718">c46868_g4_i1</text></g>
<g id="c40697_g3_i1" class="gn"><circle cx="635" cy="727" r="10"/><text x="635" y="730">c40697_g3_i1</text></g>
<g id="c42075_g1_i1" class="gn"><circle cx="664" cy="719" r="10"/><text x="665" y="722">c42075_g1_i1</text></g>
<g id="c47081_g2_i2" class="gn"><circle cx="715" cy="719" r="10"/><text x="715" y="722">c47081_g2_i2</text></g>
<g id="c43501_g1_i4" class="gn"><circle cx="758" cy="737" r="10"/><text x="759" y="740">c43501_g1_i4</text></g>
<g id="c33727_g1_i1" class="gn"><circle cx="688" cy="753" r="10"/><text x="688" y="756">c33727_g1_i1</text></g>
</g>
<g id="titles">
<text class="ttl tr" x="407" y="69">Cluster 2</text>
<text class="ttl tb" x="582" y="87">Group III</text>
<text class="ttl tb" x="182" y="215">Group I</text>
<text class="ttl tr" x="12" y="248">Cluster 3</text>
<text class="ttl tr" x="1016" y="212">Cluster 8</text>
<text class="ttl tr" x="1060" y="537">Cluster 7</text>
<text class="ttl tb" x="928" y="611">Group II</text>
<text class="ttl tr" x="153" y="811">Cluster 4</text>
<text class="ttl tr" x="392" y="824">Cluster 5</text>
<text class="ttl tr" x="683" y="806">Cluster 6</text>
</g>
</svg>
